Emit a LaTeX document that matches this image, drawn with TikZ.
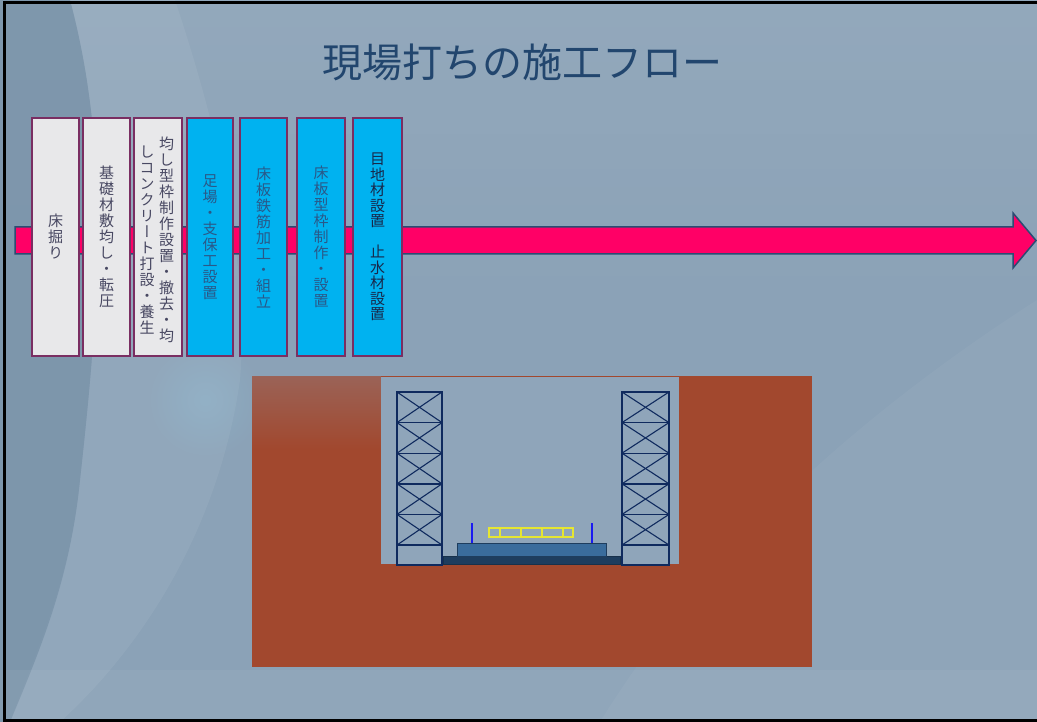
\documentclass[tikz,border=0pt]{standalone}
\usepackage{fontspec}
\newfontfamily\jpfont{Noto Sans CJK JP}
\newfontfamily\jptate[RawFeature=+vert]{Noto Sans CJK JP}
\usetikzlibrary{fadings}

\definecolor{bgbase}{HTML}{8BA2B7}
\definecolor{bgdark}{HTML}{7A93A9}
\definecolor{titleblue}{HTML}{22466E}
\definecolor{flowpink}{HTML}{FF0066}
\definecolor{flowedge}{HTML}{2B4C73}
\definecolor{boxedge}{HTML}{7A2E62}
\definecolor{boxgray}{HTML}{E8E8EA}
\definecolor{boxcyan}{HTML}{00B2F0}
\definecolor{txtgray}{HTML}{484862}
\definecolor{txtblue}{HTML}{2A5888}
\definecolor{txtnavy}{HTML}{18284A}
\definecolor{soil}{HTML}{A2482E}
\definecolor{pit}{HTML}{8FA5BA}
\definecolor{frameblue}{HTML}{0F2A5E}
\definecolor{slabdark}{HTML}{1E3D5E}
\definecolor{slab}{HTML}{3A6C9C}
\definecolor{post}{HTML}{1A1AF0}
\definecolor{rebar}{HTML}{E6E632}

\tikzfading[name=fadedown, top color=transparent!0, bottom color=transparent!100]
\tikzfading[name=glow, inner color=transparent!0, outer color=transparent!100]

\tikzset{
  stepbox/.style={draw=boxedge, line width=1.8pt, inner sep=0pt, outer sep=0pt,
    minimum height=238pt, align=center,
    font=\jptate\fontsize{15}{16}\selectfont},
  graybox/.style={stepbox, fill=boxgray, text=txtgray},
  cyanbox/.style={stepbox, fill=boxcyan, text=txtblue},
  tatecol/.style={inner sep=0pt, align=center, text=txtgray,
    font=\jptate\fontsize{15}{16}\selectfont},
  towerline/.style={frameblue, line width=1.1pt},
}

% scaffold tower: left x, right x
\newcommand\scaffoldtower[2]{%
  \foreach \i in {0,...,4}{
    \pgfmathsetmacro\ya{392+30.6*\i}
    \pgfmathsetmacro\yb{392+30.6*(\i+1)}
    \draw[towerline] (#1,\ya) -- (#2,\yb);
    \draw[towerline] (#2,\ya) -- (#1,\yb);
    \draw[frameblue, line width=1.4pt] (#1,\yb) -- (#2,\yb);
  }
  \draw[frameblue, line width=2pt] (#1,392) rectangle (#2,565);
}

\begin{document}
\begin{tikzpicture}[x=1pt,y=-1pt]
\useasboundingbox (0,0) rectangle (1037,722);

% slide background
\fill[bgbase] (0,0) rectangle (1037,722);
\fill[white, opacity=.07, path fading=fadedown] (0,0) rectangle (1037,320);
\fill[white, opacity=.06] (70,0) -- (175,0) .. controls (215,120) and (250,260) .. (240,380) .. controls (220,520) and (150,640) .. (60,722) -- (10,722) .. controls (40,640) and (70,580) .. (80,480) .. controls (100,300) and (110,150) .. (70,0) -- cycle;
\fill[bgdark, opacity=.8] (0,0) -- (70,0) .. controls (110,150) and (100,300) .. (80,480) .. controls (70,580) and (40,650) .. (10,722) -- (0,722) -- cycle;
\fill[white, opacity=.04] (1037,300) .. controls (850,420) and (700,560) .. (600,722) -- (1037,722) -- cycle;
\fill[white, opacity=.05] (0,670) rectangle (1037,719);
\fill[white!60!cyan, opacity=.18, path fading=glow] (205,400) circle (60);

% title
\node[font=\jpfont\fontsize{40}{44}\selectfont, text=titleblue] (title) at (522,62) {現場打ちの施工フロー};

% flow arrow
\filldraw[fill=flowpink, draw=flowedge, line width=1.5pt]
  (15,227) -- (1013,227) -- (1013,213) -- (1036,240.5) -- (1013,268) -- (1013,254) -- (15,254) -- cycle;

% process steps
\node[graybox, minimum width=47pt] (b1) at (55.5,237) {床\\掘\\り};
\node[graybox, minimum width=47pt] (b2) at (106.5,237) {基\\礎\\材\\敷\\均\\し\\・\\転\\圧};
\node[graybox, minimum width=48pt] (b3) at (158,237) {};
\node[tatecol] (b3r) at (166.5,240) {均\\し\\型\\枠\\制\\作\\設\\置\\・\\撤\\去\\・\\均};
\node[tatecol] (b3l) at (147,240) {し\\コ\\ン\\ク\\リ\\ー\\ト\\打\\設\\・\\養\\生};
\node[cyanbox, minimum width=46pt] (b4) at (210,237) {足\\場\\・\\支\\保\\工\\設\\置};
\node[cyanbox, minimum width=47pt] (b5) at (263.5,237) {床\\板\\鉄\\筋\\加\\工\\・\\組\\立};
\node[cyanbox, minimum width=48pt] (b6) at (321,237) {床\\板\\型\\枠\\制\\作\\・\\設\\置};
\node[cyanbox, minimum width=49pt, text=txtnavy, font=\jptate\fontsize{15}{15.5}\selectfont] (b7) at (377.5,237) {目\\地\\材\\設\\置\\　\\止\\水\\材\\設\\置};

% cross-section: ground and excavation
\fill[soil] (252,376) rectangle (812,667);
\fill[bgbase, opacity=.3, path fading=fadedown] (252,376) rectangle (381,450);
\fill[pit] (381,377) rectangle (679,564);

% foundation slabs
\filldraw[fill=slabdark, draw=slabdark!80!black, line width=.6pt] (443,556) rectangle (620,564);
\filldraw[fill=slab, draw=slabdark, line width=.6pt] (457,543) rectangle (606,556);

% water-stop posts
\draw[post, line width=2.5pt] (472,523) -- (472,543);
\draw[post, line width=2.5pt] (592,523) -- (592,543);

% rebar cage
\draw[rebar, line width=1.2pt] (489,528) rectangle (573,537);
\foreach \x in {500,521,542,563} \draw[rebar, line width=1.2pt] (\x,528) -- (\x,537);

% scaffolding towers
\scaffoldtower{397}{442}
\scaffoldtower{622}{669}

% slide frame
\draw[black, line width=3pt] (1037,2.5) -- (4.5,2.5) -- (4.5,720.5) -- (1037,720.5);
\end{tikzpicture}
\end{document}
